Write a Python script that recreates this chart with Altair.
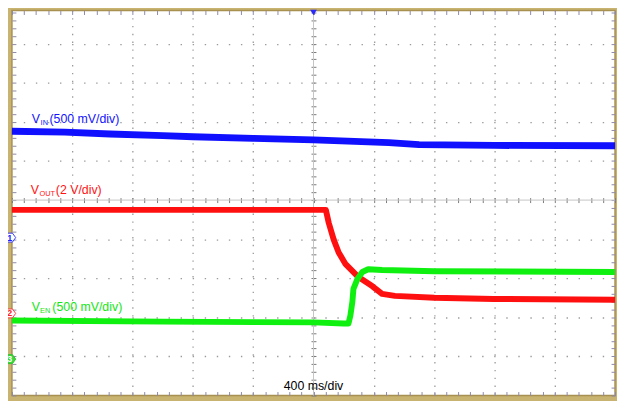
import altair as alt
import pandas as pd

# ---- data (time in ms: 400 ms/div, trigger at 0; amplitude in screen divisions) ----
vin_t = [-2000, -1650, -1350, -1000, -800, -400, 0, 500, 700, 1200, 2000]
vin_d = [1.76, 1.74, 1.69, 1.65, 1.62, 1.58, 1.54, 1.47, 1.42, 1.40, 1.39]

vout_t = [-2000, 82, 101, 134, 167, 213, 298, 389, 455, 540, 802, 1195, 2000]
vout_d = [-0.25, -0.25, -0.58, -1.01, -1.34, -1.64, -1.97, -2.20, -2.40, -2.45, -2.50, -2.53, -2.55]

ven_t = [-2000, -1000, 0, 200, 232, 245, 258, 265, 291, 324, 363, 455, 802, 2000]
ven_d = [-3.08, -3.11, -3.13, -3.16, -3.16, -2.95, -2.60, -2.27, -2.02, -1.84, -1.77, -1.79, -1.82, -1.84]

# graticule
major_t = [-1600, -1200, -800, -400, 400, 800, 1200, 1600]
major_d = [-4, -3, -2, -1, 1, 2, 3, 4]
minor_step_t = 80
minor_step_d = 0.2
minor_t = [-2000 + minor_step_t * k for k in range(51)]
minor_d = [round(-5 + minor_step_d * k, 2) for k in range(50)]

# labels
lab_text = ["V", "IN", "(500 mV/div)", "V", "OUT", "(2 V/div)", "V", "EN", "(500 mV/div)"]
lab_t = [-1869, -1810, -1751, -1876, -1817, -1709, -1869, -1814, -1732]
lab_d = [1.97, 1.92, 1.97, 0.15, 0.10, 0.15, -2.83, -2.88, -2.83]
lab_size = [12.5, 7.5, 12.5, 12.5, 7.5, 12.5, 12.5, 7.5, 12.5]
lab_color = ["#1414ff"] * 3 + ["#ff1414"] * 3 + ["#14e614"] * 3

time_label = "400 ms/div"

ch_label = ["1", "2", "3"]
ch_d = [-0.96, -2.90, -4.07]
ch_stroke = ["#3a3aff", "#ff3a3a", "#2ec22e"]
ch_fill = ["#ffffff", "#ffffff", "#3ad83a"]
ch_text = ["#2020ff", "#ff2020", "#ffffff"]

W, H = 611, 390
T0, T1 = -2000, 2000
D0, D1 = -5, 4.85
xs = alt.Scale(domain=[T0, T1], nice=False, zero=False)
ys = alt.Scale(domain=[D0, D1], nice=False, zero=False)

pts = pd.DataFrame({"t": [T0, T1], "d": [D0, D1]})

def noax(**kw):
    base = dict(domain=False, labels=False, ticks=False, grid=False, title=None)
    base.update(kw)
    return alt.Axis(**base)

grid_col = "#9a9a9a"
edge_col = "#8c88a8"
tick_col = "#7a7a7a"

px_per_div_y = H / (D1 - D0)
px_per_div_x = W / 10.0
dot_v = px_per_div_y * minor_step_d
dot_h = px_per_div_x * minor_step_t / 400

grid = alt.Chart(pts).mark_point(opacity=0).encode(
    x=alt.X("t:Q", scale=xs, axis=noax(orient="bottom", values=major_t, grid=True,
                                        gridDash=[1.4, dot_v - 1.4], gridDashOffset=0.7,
                                        gridColor=grid_col, gridWidth=1.3)),
    y=alt.Y("d:Q", scale=ys, axis=noax(orient="left", values=major_d, grid=True,
                                        gridDash=[1.4, dot_h - 1.4], gridDashOffset=0.7,
                                        gridColor=grid_col, gridWidth=1.3)),
)

edge1 = alt.Chart(pts).mark_point(opacity=0).encode(
    x=alt.X("t:Q", scale=xs, axis=noax(orient="bottom", values=minor_t, ticks=True,
                                        offset=-4, tickSize=4, tickColor=edge_col)),
    y=alt.Y("d:Q", scale=ys, axis=noax(orient="left", values=minor_d, ticks=True,
                                        offset=-4, tickSize=4, tickColor=edge_col)),
)
edge2 = alt.Chart(pts).mark_point(opacity=0).encode(
    x=alt.X("t:Q", scale=xs, axis=noax(orient="top", values=minor_t, ticks=True,
                                        offset=-4, tickSize=4, tickColor=edge_col)),
    y=alt.Y("d:Q", scale=ys, axis=noax(orient="right", values=minor_d, ticks=True,
                                        offset=-4, tickSize=4, tickColor=edge_col)),
)

y0_from_bottom = (0 - D0) * px_per_div_y
x0_from_left = (0 - T0) / (T1 - T0) * W
center_ticks = alt.Chart(pts).mark_point(opacity=0).encode(
    x=alt.X("t:Q", scale=xs, axis=noax(orient="bottom", values=minor_t, ticks=True,
                                        offset=-(y0_from_bottom + 2.5), tickSize=5, tickColor=tick_col)),
    y=alt.Y("d:Q", scale=ys, axis=noax(orient="left", values=minor_d, ticks=True,
                                        offset=-(x0_from_left + 2.5), tickSize=5, tickColor=tick_col)),
)

zero_df = pd.DataFrame({"t": [0], "d": [0]})
vline = alt.Chart(zero_df).mark_rule(color="#c4c4c4", strokeWidth=1).encode(
    x=alt.X("t:Q", scale=xs, axis=None))
hline = alt.Chart(zero_df).mark_rule(color="#c4c4c4", strokeWidth=1).encode(
    y=alt.Y("d:Q", scale=ys, axis=None))

def trace(ts, ds, color, width):
    df = pd.DataFrame({"t": ts, "d": ds})
    return alt.Chart(df).mark_line(color=color, strokeWidth=width, strokeJoin="round").encode(
        x=alt.X("t:Q", scale=xs, axis=None),
        y=alt.Y("d:Q", scale=ys, axis=None),
    )

vin = trace(vin_t, vin_d, "#1010ff", 7)
vout = trace(vout_t, vout_d, "#ff1010", 6)
ven = trace(ven_t, ven_d, "#10f010", 6)

lab_df = pd.DataFrame({"text": lab_text, "t": lab_t, "d": lab_d, "size": lab_size, "color": lab_color})
labels = alt.Chart(lab_df).mark_text(align="left", baseline="alphabetic", font="Liberation Sans").encode(
    x=alt.X("t:Q", scale=xs, axis=None),
    y=alt.Y("d:Q", scale=ys, axis=None),
    text="text:N",
    size=alt.Size("size:Q", scale=None),
    color=alt.Color("color:N", scale=None),
)

tl_df = pd.DataFrame({"text": [time_label], "t": [0], "d": [-4.85]})
tlabel = alt.Chart(tl_df).mark_text(align="center", baseline="alphabetic", font="Liberation Sans",
                                    fontSize=12.5, color="#000000").encode(
    x=alt.X("t:Q", scale=xs, axis=None),
    y=alt.Y("d:Q", scale=ys, axis=None),
    text="text:N",
)

ch_df = pd.DataFrame({"label": ch_label, "t": [T0 - 8] * 3, "d": ch_d,
                      "stroke": ch_stroke, "fill": ch_fill, "tc": ch_text})
pent = "M-1,-0.9L0.35,-0.9L1,0L0.35,0.9L-1,0.9Z"
ch_mark = alt.Chart(ch_df).mark_point(shape=pent, filled=True, size=100, strokeWidth=1, opacity=1).encode(
    x=alt.X("t:Q", scale=xs, axis=None),
    y=alt.Y("d:Q", scale=ys, axis=None),
    fill=alt.Fill("fill:N", scale=None),
    stroke=alt.Stroke("stroke:N", scale=None),
)
ch_txt = alt.Chart(ch_df).mark_text(font="Liberation Sans", fontSize=9, fontWeight="bold",
                                    align="center", baseline="middle", dx=-1).encode(
    x=alt.X("t:Q", scale=xs, axis=None),
    y=alt.Y("d:Q", scale=ys, axis=None),
    text="label:N",
    color=alt.Color("tc:N", scale=None),
)

trig_df = pd.DataFrame({"t": [0], "d": [D1 - 0.05]})
trig = alt.Chart(trig_df).mark_point(shape="triangle-down", filled=True, size=45, color="#2a2aff", opacity=1).encode(
    x=alt.X("t:Q", scale=xs, axis=None),
    y=alt.Y("d:Q", scale=ys, axis=None),
)

chart = alt.layer(
    grid, edge1, edge2, center_ticks, vline, hline, vin, vout, ven, labels, tlabel, ch_mark, ch_txt, trig
).resolve_axis(x="independent", y="independent").properties(
    width=W, height=H,
    autosize=alt.AutoSizeParams(type="none"),
    padding={"left": 4, "top": 0, "right": 2, "bottom": 3},
    background="#C8B370",
).configure_view(fill="white", stroke="#A89050", strokeWidth=1.5)

chart.save("out.html", embed_options={"renderer": "svg", "actions": False})
